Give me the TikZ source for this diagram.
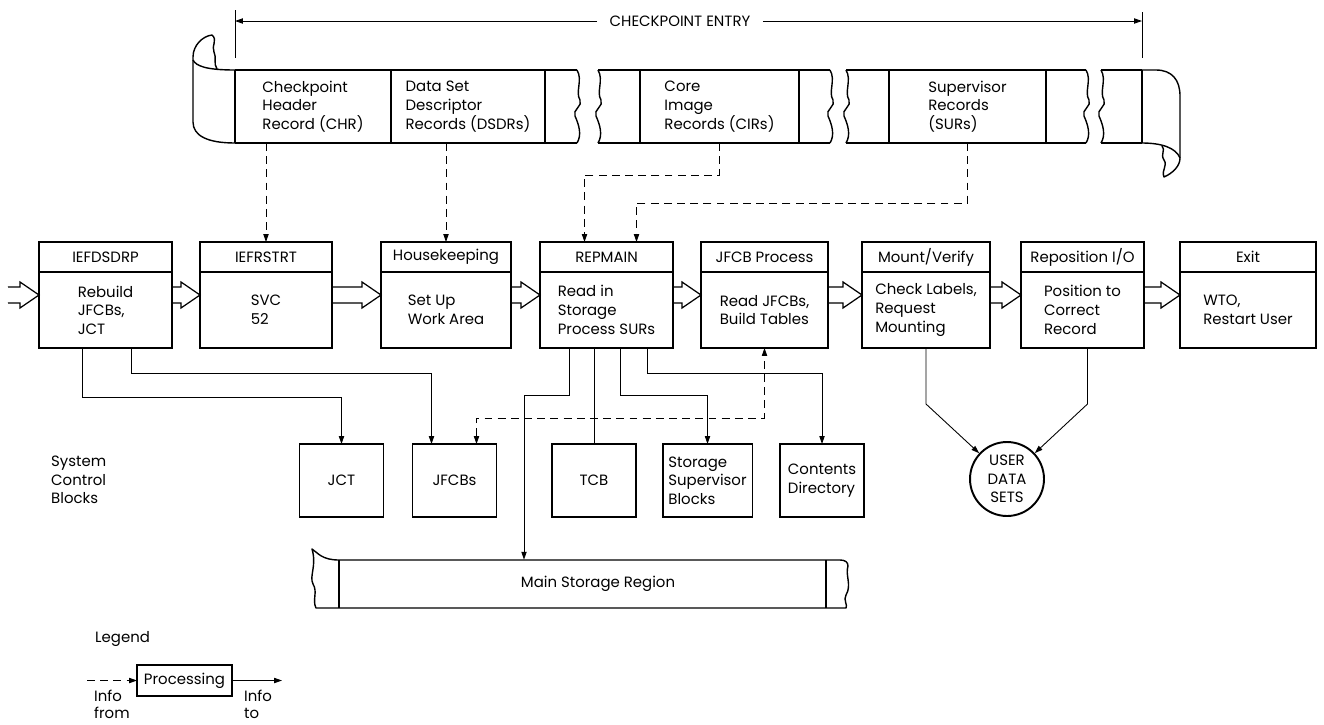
\documentclass[tikz,border=0pt]{standalone}
\usepackage{fontspec}
\setmainfont{Poppins}
\usetikzlibrary{arrows.meta,positioning,calc}
\tikzset{
  every node/.style={font=\fontsize{8.5}{10.6}\selectfont},
  head/.style={draw, line width=1.1pt, outer sep=0pt, minimum width=#1, minimum height=0.6cm},
  proc/.style={draw, line width=1.1pt, outer sep=0pt, minimum width=#1, minimum height=1.52cm, align=left},
  blk/.style={draw, line width=1.1pt, outer sep=0pt, minimum width=1.68cm, minimum height=1.46cm, align=left},
  cell/.style={minimum width=#1, minimum height=1.46cm, outer sep=0pt, align=left},
  tape/.style={line width=0.8pt, line join=round},
  plain/.style={line width=0.5pt},
  link/.style={-{Triangle[length=4.5pt,width=3pt]}, line width=0.5pt},
  info/.style={link, dash pattern=on 4.5pt off 3pt},
  flowline/.style={line width=0.7pt, line join=miter},
}
% hollow double-line arrow between two anchors
\newcommand{\flowto}[2]{%
  \draw[flowline] ($(#1)+(0,-23)$) -- ($(#2)+(-19,-23)$) -- ($(#2)+(-19,-28)$)
    -- ($(#2)+(0,-15)$) -- ($(#2)+(-19,-2)$) -- ($(#2)+(-19,-7)$) -- ($(#1)+(0,-7)$);}
% torn edge of the tape
\newcommand{\tear}[1]{%
  \draw[tape] (#1,70) .. controls (#1+6,80) and (#1-2,92) .. (#1+3,100)
    .. controls (#1+6,106) and (#1-5,110) .. (#1-2,116)
    .. controls (#1+2,125) and (#1+5,135) .. (#1,143);}

\begin{document}
\begin{tikzpicture}[x=0.02cm, y=-0.02cm]
  \useasboundingbox (0,0) rectangle (1324,724);
  % checkpoint entry span
  \node[inner xsep=7pt] (entry) at (680,21) {CHECKPOINT ENTRY};
  \coordinate (entl) at (235,21);
  \coordinate (entr) at (1142,21);
  \draw[link] (entry) -- (entl);
  \draw[link] (entry) -- (entr);
  \draw[plain] (235,10) -- (235,58) (1142,12) -- (1142,58);

  % checkpoint data set (tape)
  \draw[tape] (235,70) -- (577,70) (235,143) -- (577,143)
    (598,70) -- (830,70) (598,143) -- (830,143)
    (846,70) -- (1086,70) (846,143) -- (1086,143)
    (1101,70) -- (1142,70) (1101,143) -- (1142,143);
  \draw[tape] (235,70) -- (235,143) (391,70) -- (391,143) (545,70) -- (545,143)
    (640,70) -- (640,143) (799,70) -- (799,143) (889,70) -- (889,143)
    (1046,70) -- (1046,143) (1142,70) -- (1142,143);
  \tear{577} \tear{598} \tear{830} \tear{846} \tear{1086} \tear{1101}
  \draw[tape] (235,143) .. controls (208,143) and (193,136) .. (193,122) -- (193,57)
    .. controls (193,45) and (203,36) .. (212,35) .. controls (218,40) and (211,46) .. (214,52)
    .. controls (217,58) and (213,63) .. (217,69);
  \draw[tape] (193,60) .. controls (196,66) and (206,70) .. (235,70);
  \draw[tape] (1142,70) -- (1156,70) .. controls (1172,70) and (1180,80) .. (1180,96) -- (1180,158)
    .. controls (1180,166) and (1173,173) .. (1164,177) .. controls (1161,170) and (1168,166) .. (1164,160)
    .. controls (1160,154) and (1166,150) .. (1162,146);
  \draw[tape] (1142,143) .. controls (1162,143) and (1176,148) .. (1180,158);
  \node[cell=3.12cm] (chr) at (313,106.5) {Checkpoint\\Header\\Record (CHR)};
  \node[cell=3.08cm] (dsdr) at (468,106.5) {Data Set\\Descriptor\\Records (DSDRs)};
  \node[cell=3.18cm] (cir) at (719.5,106.5) {Core\\Image\\Records (CIRs)};
  \node[cell=3.14cm] (sur) at (967.5,106.5) {Supervisor\\Records\\(SURs)};

  % processing steps
  \node[head=2.66cm] (dsdrp-h) at (105.5,257) {IEFDSDRP};
  \node[proc=2.66cm, below=0pt of dsdrp-h] (dsdrp) {Rebuild\\JFCBs,\\JCT};
  \node[head=2.64cm] (rstrt-h) at (266,257) {IEFRSTRT};
  \node[proc=2.64cm, below=0pt of rstrt-h] (rstrt) {SVC\\52};
  \node[head=2.6cm] (house-h) at (446,257) {Housekeeping};
  \node[proc=2.6cm, below=0pt of house-h] (house) {Set Up\\Work Area};
  \node[head=2.66cm] (repmain-h) at (606.5,257) {REPMAIN};
  \node[proc=2.66cm, below=0pt of repmain-h] (repmain) {Read in\\Storage\\Process SURs};
  \node[head=2.54cm] (jfcbp-h) at (764.5,257) {JFCB Process};
  \node[proc=2.54cm, below=0pt of jfcbp-h] (jfcbp) {Read JFCBs,\\Build Tables};
  \node[head=2.56cm] (mount-h) at (926,257) {Mount/Verify};
  \node[proc=2.56cm, below=0pt of mount-h] (mount) {Check Labels,\\Request\\Mounting};
  \node[head=2.46cm] (repos-h) at (1082.5,257) {Reposition I/O};
  \node[proc=2.46cm, below=0pt of repos-h] (repos) {Position to\\Correct\\Record};
  \node[head=2.72cm] (exit-h) at (1248,257) {Exit};
  \node[proc=2.72cm, below=0pt of exit-h] (exit) {WTO,\\Restart User};

  \node[inner sep=0pt, minimum size=0pt] (src) at (8,310) {};
  \flowto{src}{dsdrp.west}
  \flowto{dsdrp.east}{rstrt.west}
  \flowto{rstrt.east}{house.west}
  \flowto{house.east}{repmain.west}
  \flowto{repmain.east}{jfcbp.west}
  \flowto{jfcbp.east}{mount.west}
  \flowto{mount.east}{repos.west}
  \flowto{repos.east}{exit.west}

  \draw[info] (rstrt-h.north |- chr.south) -- (rstrt-h.north);
  \draw[info] (house-h.north |- dsdr.south) -- (house-h.north);
  \draw[info] (cir.south) -- ++(0,32) -| ($(repmain-h.north)+(-22,0)$);
  \draw[info] (sur.south) -- ++(0,60) -| ($(repmain-h.north)+(30,0)$);

  % system control blocks
  \node[anchor=west, align=left] (scb) at (45,480) {System\\Control\\Blocks};
  \node[blk] (jct) at (341.5,480.5) {JCT};
  \node[blk] (jfcbs) at (454.5,480.5) {JFCBs};
  \node[blk] (tcb) at (594,480.5) {TCB};
  \node[blk] (ssb) at (707.5,480.5) {Storage\\Supervisor\\Blocks};
  \node[blk] (cdir) at (822,480.5) {Contents\\Directory};
  \node[circle, draw, line width=1.1pt, minimum size=1.48cm, inner sep=0pt, align=center] (uds)
    at (1007,479) {USER\\DATA\\SETS};

  % main storage region
  \draw[tape] (339,560) -- (840,560) .. controls (845,560) and (848,562) .. (848,566)
    .. controls (845,575) and (852,585) .. (846,595) .. controls (843,600) and (848,605) .. (846,608)
    -- (316,608) .. controls (312,600) and (318,592) .. (313,584)
    .. controls (309,576) and (317,566) .. (312,549) .. controls (318,553) and (322,560) .. (339,560);
  \draw[tape] (339,560) -- (339,608) (826,560) -- (826,608);
  \node[minimum height=0.96cm] (msr) at (598,584) {Main Storage Region};

  \draw[link] ($(dsdrp.south)+(-23.5,0)$) -- ++(0,49) -| (jct.north);
  \draw[link] ($(dsdrp.south)+(25.5,0)$) -- ++(0,25) -| ($(jfcbs.north)+(-23,0)$);
  \draw[link] ($(repmain.south)+(-37,0)$) -- ++(0,47) -| ($(msr.north)+(-74,0)$);
  \draw[plain] (tcb.north |- repmain.south) -- (tcb.north);
  \draw[link] ($(repmain.south)+(14,0)$) -- ++(0,47) -| (ssb.north);
  \draw[link] ($(repmain.south)+(41,0)$) -- ++(0,25) -| (cdir.north);
  \draw[info, {Triangle[length=4.5pt,width=3pt]}-{Triangle[length=4.5pt,width=3pt]}]
    ($(jfcbs.north)+(22,0)$) -- ++(0,-26) -| (jfcbp.south);
  \draw[link] (mount.south) -- ++(0,56) -- (uds);
  \draw[link] ($(repos.south)+(5,0)$) -- ++(0,56) -- (uds);

  % legend
  \node[anchor=west] (legend) at (89,639) {Legend};
  \node[draw, line width=1.1pt, outer sep=0pt, minimum width=1.9cm, minimum height=0.62cm]
    (lgproc) at (184.5,680.5) {Processing};
  \coordinate (lgin) at (87,680.5);
  \coordinate (lgout) at (282,680.5);
  \draw[info] (lgin) -- (lgproc);
  \draw[link] (lgproc) -- (lgout);
  \node[anchor=west, align=left, font=\fontsize{8.5}{9.6}\selectfont] (infofrom) at (88,704) {Info\\from};
  \node[anchor=west, align=left, font=\fontsize{8.5}{9.6}\selectfont] (infoto) at (238,704) {Info\\to};
\end{tikzpicture}
\end{document}
